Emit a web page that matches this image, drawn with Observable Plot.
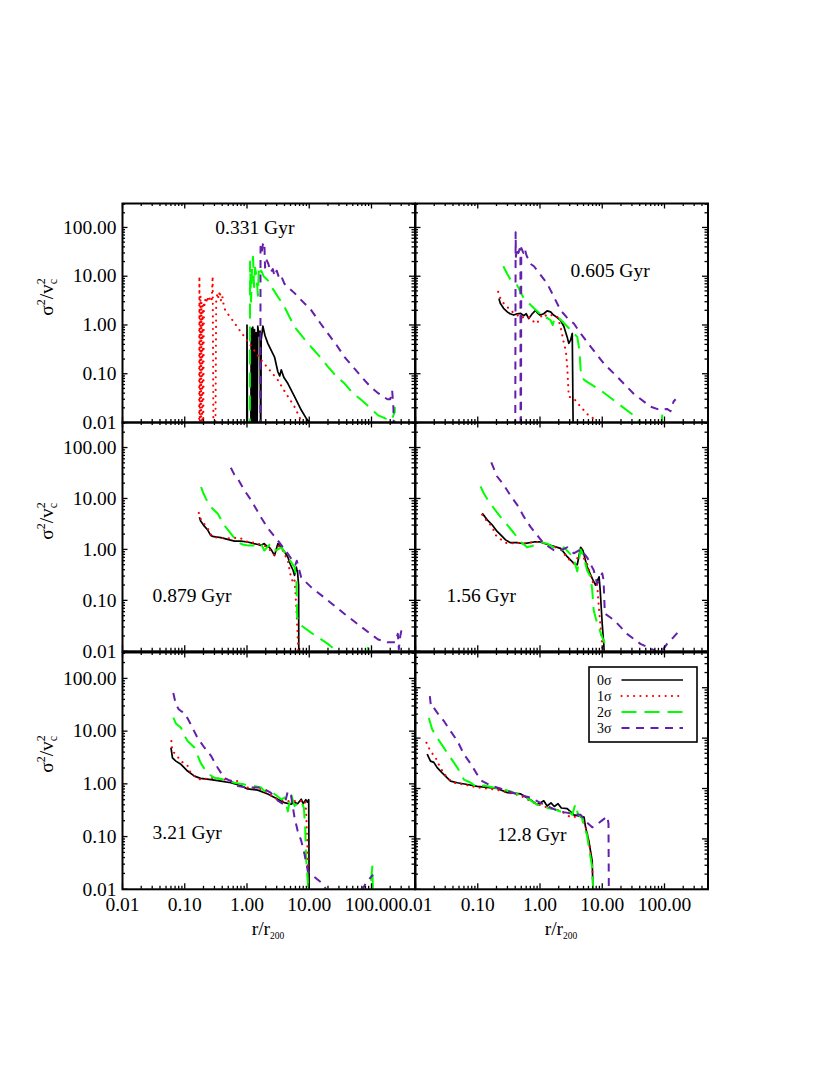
<!DOCTYPE html>
<html>
<head>
<meta charset="utf-8">
<script src="https://cdn.jsdelivr.net/npm/d3@7"></script>
<script src="https://cdn.jsdelivr.net/npm/@observablehq/plot@0.6"></script>
<style>
  body { margin: 0; background: #fff; }
  #wrap { position: relative; width: 830px; height: 1075px; font-family: "Liberation Serif", "Times New Roman", serif; color: #000; overflow: hidden; }
  .ytitle { position: absolute; transform: translate(-50%, -50%) rotate(-90deg); white-space: nowrap; font-size: 19.5px; line-height: 1; }
  .ytitle .sup { font-size: 12px; position: relative; top: -8px; }
  .ytitle .stack { display: inline-flex; flex-direction: column; font-size: 12px; line-height: 0.95; vertical-align: middle; position: relative; top: -1px; }
  .xtitle { position: absolute; width: 120px; text-align: center; font-size: 19.5px; line-height: 1; white-space: nowrap; }
  .xtitle .sub { font-size: 9.5px; position: relative; top: 4px; }
</style>
</head>
<body>
<div id="wrap"></div>
<script>
// ---------------- tick values and labels ----------------
const xTickValues = [0.01, 0.1, 1, 10, 100];
const xTickLabels = ["0.01", "0.10", "1.00", "10.00", "100.00"];
const yTickValues = [0.01, 0.1, 1, 10, 100];
const yTickLabels = ["0.01", "0.10", "1.00", "10.00", "100.00"];
const xDomain = [0.01, 500];
const yDomainTall = [0.01, 310];
const yDomainLast = [0.01, 500];

// ---------------- series names ----------------
const seriesNames = ["0σ", "1σ", "2σ", "3σ"];
const panelLabels = ["0.331 Gyr", "0.605 Gyr", "0.879 Gyr", "1.56 Gyr", "3.21 Gyr", "12.8 Gyr"];

// ---------------- data: [r/r200, sigma^2/vc^2] ----------------
// 0.331 Gyr
const t0331_s0 = [[0.99,0.002],[1.0,1.0],[1.02,0.002],[1.15,0.002],[1.17,0.85],[1.2,0.002],[1.24,0.9],[1.28,0.003],[1.32,0.8],[1.36,0.002],[1.40,0.7],[1.45,0.003],[1.49,0.95],[1.55,0.6],[1.62,0.75],[1.66,0.002],[1.69,0.5],[1.8,0.95],[1.95,0.6],[2.16,0.42],[2.45,0.3],[2.77,0.22],[3.13,0.11],[3.35,0.09],[3.55,0.12],[3.9,0.085],[4.54,0.063],[5.81,0.034],[7.44,0.018],[9,0.012],[10.1,0.01],[11,0.005]];
const t0331_s1 = [[0.170,0.002],[0.172,10],[0.175,0.002],[0.179,4],[0.182,0.003],[0.186,3],[0.190,0.004],[0.194,2.5],[0.198,0.005],[0.203,3],[0.209,2.5],[0.215,3.5],[0.222,3],[0.23,3.8],[0.24,3],[0.25,3.5],[0.26,3.2],[0.27,3],[0.281,10],[0.29,0.002],[0.30,0.002],[0.31,0.003],[0.32,3],[0.335,4.5],[0.35,3.5],[0.365,5],[0.38,3.2],[0.40,4],[0.43,2.2],[0.49,1.7],[0.6,1.2],[0.75,0.8],[0.91,0.57],[1.2,0.35],[1.69,0.19],[2.3,0.12],[3.13,0.074],[4.2,0.04],[5.8,0.021],[7.4,0.011],[8,0.005]];
const t0331_s2 = [[1.11,0.002],[1.12,20],[1.16,3],[1.2,12],[1.25,25],[1.3,6],[1.35,15],[1.42,10],[1.5,4],[1.55,15],[1.62,12],[1.69,13],[1.85,10],[2.16,8.3],[2.6,5.5],[3.13,3.8],[3.9,2.5],[4.54,1.7],[5.81,0.91],[8,0.55],[10.8,0.35],[15,0.22],[19.9,0.14],[27,0.09],[37,0.063],[50,0.04],[69,0.029],[95,0.02],[128,0.014],[170,0.012],[209,0.011],[230,0.015],[237,0.02],[240,0.002]];
const t0331_s3 = [[1.64,0.002],[1.65,40],[1.72,30],[1.8,45],[1.9,50],[1.95,15],[2.05,22],[2.2,18],[2.4,12],[2.6,14],[2.77,10],[3.0,13],[3.3,9],[3.55,10],[4.0,7],[4.54,6],[5.81,4.5],[7.5,3.2],[10.8,2],[15,1.1],[19.9,0.67],[27,0.4],[37,0.22],[50,0.14],[69,0.087],[95,0.055],[128,0.04],[180,0.03],[200,0.03],[215,0.045],[225,0.02],[230,0.005]];

// 0.605 Gyr
const t0605_s0 = [[0.219,3.5],[0.23,2.8],[0.26,2.2],[0.298,1.86],[0.33,1.7],[0.38,1.6],[0.43,1.7],[0.49,1.73],[0.55,1.55],[0.6,1.7],[0.66,1.35],[0.75,1.7],[0.85,2.0],[0.92,1.75],[1.0,1.6],[1.15,1.7],[1.3,1.95],[1.48,1.86],[1.65,1.6],[1.78,1.5],[2.14,1.25],[2.42,0.93],[2.73,0.57],[2.9,0.42],[3.1,0.49],[3.3,0.67],[3.42,0.005]];
const t0605_s1 = [[0.213,4.8],[0.23,3.6],[0.26,2.8],[0.298,2.35],[0.35,1.9],[0.43,1.6],[0.49,1.38],[0.58,1.5],[0.7,1.4],[0.8,1.15],[0.89,1.07],[1.0,1.4],[1.13,1.7],[1.3,1.5],[1.5,1.6],[1.9,1.47],[2.14,0.93],[2.42,0.42],[2.6,0.3],[2.74,0.14],[2.85,0.05],[2.9,0.034],[3.5,0.031],[4.5,0.021],[5.7,0.015],[7.3,0.012],[7.7,0.01],[8,0.005]];
const t0605_s2 = [[0.257,16],[0.3,11],[0.34,8.3],[0.43,6.5],[0.55,3.5],[0.8,2.2],[1.0,1.7],[1.13,1.38],[1.3,1.4],[1.48,1.25],[1.6,1.0],[1.7,1.3],[1.9,1.5],[2.42,1.1],[3.1,0.79],[3.97,0.57],[4.3,0.3],[4.5,0.12],[4.8,0.08],[5.7,0.068],[9.4,0.046],[17.5,0.025],[32,0.014],[41,0.01],[50,0.008],[88,0.008],[92,0.014],[95,0.005]];
const t0605_s3 = [[0.40,0.002],[0.406,80],[0.41,25],[0.43,38],[0.45,30],[0.47,36],[0.485,25],[0.488,0.002],[0.495,0.002],[0.50,38],[0.54,30],[0.57,37],[0.6,28],[0.62,25],[0.66,22],[0.7,18],[0.8,16],[1.0,11],[1.3,7.1],[1.67,3.8],[2.14,2.0],[2.74,1.4],[3.5,1.07],[4.5,0.67],[6.5,0.36],[10.7,0.16],[17.5,0.086],[32,0.039],[60,0.021],[86,0.018],[110,0.019],[125,0.017],[140,0.027],[151,0.03]];

// 0.879 Gyr
const t0879_s0 = [[0.172,4.3],[0.18,3.6],[0.2,3.0],[0.234,2.4],[0.26,1.9],[0.28,1.8],[0.33,1.75],[0.38,1.7],[0.49,1.57],[0.63,1.45],[0.8,1.45],[1.02,1.4],[1.3,1.3],[1.5,1.25],[1.67,1.2],[1.89,1.3],[2.1,1.15],[2.28,1.1],[2.5,0.95],[2.77,0.76],[3.13,1.3],[3.55,1.1],[4.0,0.9],[4.54,0.7],[5.0,0.5],[5.5,0.39],[5.8,0.31],[6.2,0.45],[6.5,0.35],[6.75,0.2],[6.8,0.005]];
const t0879_s1 = [[0.168,5.2],[0.18,4.0],[0.2,3.3],[0.234,2.6],[0.26,2.0],[0.29,1.73],[0.35,1.7],[0.49,1.65],[0.72,1.7],[0.85,1.6],[1.02,1.4],[1.3,1.35],[1.67,1.25],[2.0,1.15],[2.4,0.95],[2.77,0.76],[3.13,1.2],[3.6,1.05],[4.54,0.6],[5.1,0.28],[5.5,0.23],[5.8,0.26],[6.2,0.074],[6.6,0.014],[6.8,0.005]];
const t0879_s2 = [[0.183,16.8],[0.2,12.5],[0.22,9.8],[0.263,6.8],[0.34,5.0],[0.43,3.0],[0.56,2.0],[0.71,1.38],[0.85,1.25],[1.02,1.2],[1.3,1.2],[1.67,1.3],[1.9,0.95],[2.1,1.1],[2.4,1.3],[2.9,0.95],[3.55,1.1],[4.54,0.7],[5.8,0.45],[6.2,0.28],[6.4,0.047],[7.0,0.034],[10.8,0.023],[19.9,0.014],[28,0.01],[30,0.005],[85,0.005],[88,0.013],[90,0.005]];
const t0879_s3 = [[0.55,40],[0.62,30],[0.71,24.5],[0.91,14.4],[1.17,9.2],[1.67,4.3],[2.16,2.6],[3.13,1.5],[4.54,0.82],[6.0,0.5],[6.3,0.6],[7.44,0.28],[10.8,0.18],[19.9,0.1],[37,0.054],[69,0.03],[128,0.017],[180,0.015],[240,0.015],[265,0.022],[275,0.011],[290,0.02],[303,0.026]];

// 1.56 Gyr
const t156_s0 = [[0.118,5.1],[0.13,4.4],[0.142,3.8],[0.17,3.05],[0.205,2.25],[0.247,1.8],[0.28,1.54],[0.33,1.36],[0.43,1.36],[0.55,1.3],[0.8,1.4],[1.0,1.4],[1.48,1.2],[2.14,1.05],[2.74,0.72],[3.5,0.53],[3.97,0.5],[4.5,1.1],[4.9,0.95],[5.7,0.46],[6.9,0.27],[7.8,0.2],[8.9,0.29],[9.3,0.15],[10.0,0.034],[10.6,0.0135],[11,0.005]];
const t156_s1 = [[0.118,4.8],[0.14,3.6],[0.17,2.8],[0.195,1.9],[0.23,1.6],[0.3,1.3],[0.43,1.35],[0.55,1.3],[0.8,1.4],[1.0,1.4],[1.48,1.2],[2.14,1.0],[2.74,0.68],[3.5,0.53],[4.5,0.85],[5.7,0.53],[7.3,0.2],[8.3,0.2],[8.9,0.063],[10,0.013],[10.3,0.005]];
const t156_s2 = [[0.111,17.3],[0.125,12.6],[0.15,8.7],[0.19,6.0],[0.23,4.4],[0.3,3.0],[0.38,2.1],[0.49,1.4],[0.62,1.1],[0.8,1.2],[1.0,1.4],[1.3,1.3],[1.67,1.1],[2.14,0.9],[2.42,1.1],[3.1,0.8],[3.5,0.65],[3.97,0.37],[4.5,1.0],[5.0,0.75],[5.7,0.39],[6.5,0.29],[6.9,0.16],[7.3,0.063],[8.3,0.035],[10,0.019],[12,0.011],[13,0.005]];
const t156_s3 = [[0.165,51],[0.205,27],[0.26,18.6],[0.33,11.8],[0.43,7.5],[0.55,4.4],[0.7,2.8],[0.9,1.9],[1.15,1.3],[1.67,0.97],[2.14,0.95],[2.74,1.1],[3.5,0.84],[4.5,1.0],[5.7,0.7],[7.3,0.39],[8.3,0.21],[10,0.34],[10.5,0.25],[11,0.055],[15.5,0.041],[25,0.022],[41,0.014],[68,0.0105],[85,0.009],[110,0.014],[140,0.019],[161,0.023]];

// 3.21 Gyr
const t321_s0 = [[0.06,4.85],[0.0635,3.1],[0.072,2.7],[0.087,2.35],[0.111,1.75],[0.143,1.4],[0.18,1.27],[0.264,1.2],[0.38,1.13],[0.55,1.05],[0.8,0.92],[1.02,0.8],[1.49,0.76],[2.16,0.64],[3.13,0.51],[4.0,0.44],[5.1,0.41],[5.8,0.45],[6.5,0.42],[7.44,0.51],[8.0,0.42],[8.8,0.5],[9.4,0.45],[9.8,0.5],[10.0,0.005]];
const t321_s1 = [[0.061,6.5],[0.063,4.2],[0.072,3.6],[0.087,2.7],[0.111,2.2],[0.125,1.6],[0.143,1.4],[0.18,1.2],[0.264,1.3],[0.38,1.25],[0.55,1.15],[0.71,1.13],[1.02,0.85],[1.7,0.8],[2.77,0.54],[4.0,0.47],[5.8,0.47],[7.44,0.47],[8.6,0.49],[8.9,0.3],[9.3,0.083],[9.8,0.005]];
const t321_s2 = [[0.0655,18],[0.072,14],[0.087,11.6],[0.1,8],[0.111,6.5],[0.143,4.9],[0.18,2.5],[0.23,1.6],[0.3,1.3],[0.43,1.2],[0.63,1.05],[0.91,0.97],[1.24,0.92],[1.69,0.85],[1.89,0.73],[2.3,0.78],[2.77,0.64],[3.55,0.51],[4.0,0.55],[4.54,0.3],[5.1,0.64],[5.8,0.38],[6.5,0.42],[7.44,0.47],[8.2,0.35],[8.6,0.15],[8.9,0.04],[9.3,0.019],[9.8,0.008],[10.2,0.005],[85,0.005],[92,0.011],[98,0.013],[103,0.027],[106,0.008],[107,0.005]];
const t321_s3 = [[0.0655,53],[0.072,32],[0.08,26],[0.087,24],[0.1,22],[0.125,13.4],[0.16,7.5],[0.206,4.9],[0.264,3.4],[0.34,2.0],[0.43,1.3],[0.55,1.13],[0.71,0.91],[1.02,0.85],[1.69,0.85],[2.4,0.68],[3.13,0.48],[4.0,0.4],[4.54,0.73],[5.1,0.6],[5.8,0.23],[6.5,0.13],[7.44,0.083],[8.4,0.046],[9.5,0.022],[10.8,0.019],[15.5,0.0135],[20,0.009],[60,0.007],[69,0.009],[82,0.0135],[106,0.019]];

// 12.8 Gyr
const t128_s0 = [[0.0154,4.8],[0.0174,3.5],[0.0197,3.3],[0.0223,2.6],[0.0268,2.05],[0.0323,1.63],[0.0365,1.4],[0.047,1.3],[0.068,1.2],[0.098,1.1],[0.142,1.05],[0.205,1.0],[0.3,0.83],[0.49,0.78],[0.7,0.6],[0.9,0.48],[1.02,0.52],[1.15,0.57],[1.3,0.45],[1.5,0.52],[1.7,0.44],[1.95,0.5],[2.2,0.41],[2.74,0.4],[3.5,0.3],[4.5,0.28],[5.1,0.27],[5.4,0.17],[6.1,0.09],[6.9,0.036],[7.2,0.005]];
const t128_s1 = [[0.015,8.1],[0.0174,5.5],[0.021,4.1],[0.025,2.6],[0.0323,1.63],[0.041,1.3],[0.06,1.2],[0.098,1.05],[0.2,0.95],[0.49,0.72],[0.8,0.52],[1.3,0.42],[2.14,0.36],[3.1,0.27],[4.5,0.28],[5.4,0.18],[6.1,0.09],[6.9,0.03],[7.3,0.005]];
const t128_s2 = [[0.0164,25],[0.0185,15],[0.0223,10.2],[0.0286,6.4],[0.0365,4.1],[0.047,2.6],[0.06,1.5],[0.077,1.3],[0.098,1.05],[0.125,1.15],[0.18,1.05],[0.23,1.0],[0.35,0.86],[0.62,0.65],[0.8,0.52],[1.15,0.42],[1.67,0.39],[2.14,0.35],[2.74,0.37],[3.3,0.3],[3.7,0.49],[4.1,0.3],[4.7,0.27],[5.1,0.17],[5.7,0.12],[6.1,0.067],[6.9,0.027],[7.3,0.005]];
const t128_s3 = [[0.017,68],[0.0178,40],[0.0197,40],[0.0223,32],[0.0286,21.8],[0.0365,13.8],[0.047,8.8],[0.06,4.8],[0.077,3.1],[0.098,1.9],[0.118,1.4],[0.16,1.16],[0.23,1.0],[0.43,0.77],[0.7,0.66],[1.15,0.48],[1.67,0.39],[2.42,0.34],[3.5,0.31],[4.5,0.3],[5.7,0.21],[6.9,0.17],[8.5,0.2],[10.7,0.25],[12.1,0.28],[12.6,0.2],[12.8,0.005]];

// annotation anchor (data units) for each panel's time label
const labelAnchors = [[0.31, 100], [3.1, 12.9], [0.0304, 0.125], [0.0316, 0.125], [0.0304, 0.118], [0.206, 0.122]];

// ---------------- styles & layout ----------------
const seriesStyle = [
  { stroke: "#000000", strokeWidth: 1.7, dash: null, cap: "butt" },
  { stroke: "#ff0000", strokeWidth: 2.1, dash: "0.1,6.2", cap: "round" },
  { stroke: "#00ff00", strokeWidth: 2, dash: "15,8", cap: "butt" },
  { stroke: "#6420aa", strokeWidth: 2, dash: "8,6.5", cap: "butt" }
];
const colLeft = [122, 414.5];
const colWidth = 292.5;
const rowTop = [203.3, 422.3, 651.5];
const rowHeight = [219, 228.8, 236.8];
const FONT = 19.5;

const panels = [
  { col: 0, row: 0, series: [t0331_s0, t0331_s1, t0331_s2, t0331_s3], yDomain: yDomainTall },
  { col: 1, row: 0, series: [t0605_s0, t0605_s1, t0605_s2, t0605_s3], yDomain: yDomainTall },
  { col: 0, row: 1, series: [t0879_s0, t0879_s1, t0879_s2, t0879_s3], yDomain: yDomainTall },
  { col: 1, row: 1, series: [t156_s0, t156_s1, t156_s2, t156_s3], yDomain: yDomainTall },
  { col: 0, row: 2, series: [t321_s0, t321_s1, t321_s2, t321_s3], yDomain: yDomainTall },
  { col: 1, row: 2, series: [t128_s0, t128_s1, t128_s2, t128_s3], yDomain: yDomainLast }
];

function logTicks([lo, hi]) {
  const major = [], minor = [];
  for (let e = Math.floor(Math.log10(lo)); e <= Math.ceil(Math.log10(hi)); e++) {
    for (let m = 1; m < 10; m++) {
      const v = +(m * Math.pow(10, e)).toPrecision(6);
      if (v < lo * 0.999 || v > hi * 1.001) continue;
      (m === 1 ? major : minor).push(v);
    }
  }
  return { major, minor };
}

const wrap = document.getElementById("wrap");
const ML = 80, MR = 20, MT = 20, MB = 50;
const MAJ = 5.5, MIN = 3;

panels.forEach((p, k) => {
  const W = colWidth, H = rowHeight[p.row];
  const xt = logTicks(xDomain), yt = logTicks(p.yDomain);
  const tickStyle = { stroke: "black", strokeWidth: 1.3 };
  const marks = [];
  p.series.forEach((s, i) => {
    const st = seriesStyle[i];
    marks.push(Plot.line(s, {
      x: d => d[0], y: d => d[1], stroke: st.stroke, strokeWidth: st.strokeWidth,
      strokeDasharray: st.dash, strokeLinecap: st.cap, strokeLinejoin: "round", clip: true
    }));
  });
  marks.push(
    Plot.ruleX(xt.major, { x: d => d, insetTop: H - MAJ, ...tickStyle }),
    Plot.ruleX(xt.minor, { x: d => d, insetTop: H - MIN, ...tickStyle }),
    Plot.ruleX(xt.major, { x: d => d, insetBottom: H - MAJ, ...tickStyle }),
    Plot.ruleX(xt.minor, { x: d => d, insetBottom: H - MIN, ...tickStyle }),
    Plot.ruleY(yt.major, { y: d => d, insetRight: W - MAJ, ...tickStyle }),
    Plot.ruleY(yt.minor, { y: d => d, insetRight: W - MIN, ...tickStyle }),
    Plot.ruleY(yt.major, { y: d => d, insetLeft: W - MAJ, ...tickStyle }),
    Plot.ruleY(yt.minor, { y: d => d, insetLeft: W - MIN, ...tickStyle }),
    Plot.frame({ stroke: "black", strokeWidth: 2 }),
    Plot.text([panelLabels[k]], {
      x: () => labelAnchors[k][0], y: () => labelAnchors[k][1], text: d => d,
      textAnchor: "start", fontSize: FONT, fill: "black"
    })
  );
  if (p.col === 0) {
    marks.push(Plot.text(yTickValues, {
      y: d => d, text: (d, i) => yTickLabels[i], frameAnchor: "left",
      textAnchor: "end", dx: -6, fontSize: FONT, fill: "black"
    }));
  }
  if (p.row === 2) {
    marks.push(Plot.text(xTickValues, {
      x: d => d, text: (d, i) => xTickLabels[i], frameAnchor: "bottom",
      dy: 22, fontSize: FONT, fill: "black"
    }));
  }
  const svg = Plot.plot({
    width: ML + W + MR, height: MT + H + MB,
    marginLeft: ML, marginRight: MR, marginTop: MT, marginBottom: MB,
    x: { type: "log", domain: xDomain, axis: null },
    y: { type: "log", domain: p.yDomain, axis: null },
    style: { background: "transparent", overflow: "visible", fontFamily: "'Liberation Serif', 'Times New Roman', serif", fontSize: FONT + "px", maxWidth: "none" },
    marks
  });
  svg.style.position = "absolute";
  svg.style.left = (colLeft[p.col] - ML) + "px";
  svg.style.top = (rowTop[p.row] - MT) + "px";
  wrap.appendChild(svg);
});

// y-axis titles
const yTitleCenters = [297, 521, 754];
yTitleCenters.forEach(cy => {
  const d = document.createElement("div");
  d.className = "ytitle";
  d.style.left = "48px";
  d.style.top = cy + "px";
  d.innerHTML = 'σ<span class="sup">2</span>/v<span class="stack"><span>2</span><span>c</span></span>';
  wrap.appendChild(d);
});

// x-axis titles
[268, 561].forEach(cx => {
  const d = document.createElement("div");
  d.className = "xtitle";
  d.style.left = (cx - 60) + "px";
  d.style.top = "919px";
  d.innerHTML = 'r/r<span class="sub">200</span>';
  wrap.appendChild(d);
});

// legend (inside the 12.8 Gyr panel)
const NS = "http://www.w3.org/2000/svg";
const leg = document.createElementNS(NS, "svg");
leg.setAttribute("width", 110); leg.setAttribute("height", 77);
leg.style.position = "absolute"; leg.style.left = "587.5px"; leg.style.top = "666px";
const box = document.createElementNS(NS, "rect");
box.setAttribute("x", 1); box.setAttribute("y", 1); box.setAttribute("width", 108); box.setAttribute("height", 75);
box.setAttribute("fill", "white"); box.setAttribute("stroke", "black"); box.setAttribute("stroke-width", 1.6);
leg.appendChild(box);
seriesNames.forEach((name, i) => {
  const yy = 14 + i * 16;
  const t = document.createElementNS(NS, "text");
  t.setAttribute("x", 9); t.setAttribute("y", yy); t.setAttribute("dy", "0.35em");
  t.setAttribute("font-family", "'Liberation Serif', serif"); t.setAttribute("font-size", 14);
  t.textContent = name;
  leg.appendChild(t);
  const st = seriesStyle[i];
  const l = document.createElementNS(NS, "line");
  l.setAttribute("x1", 33.5); l.setAttribute("x2", 95); l.setAttribute("y1", yy); l.setAttribute("y2", yy);
  l.setAttribute("stroke", st.stroke); l.setAttribute("stroke-width", st.strokeWidth);
  if (st.dash) l.setAttribute("stroke-dasharray", st.dash);
  l.setAttribute("stroke-linecap", st.cap);
  leg.appendChild(l);
});
wrap.appendChild(leg);
</script>
</body>
</html>
